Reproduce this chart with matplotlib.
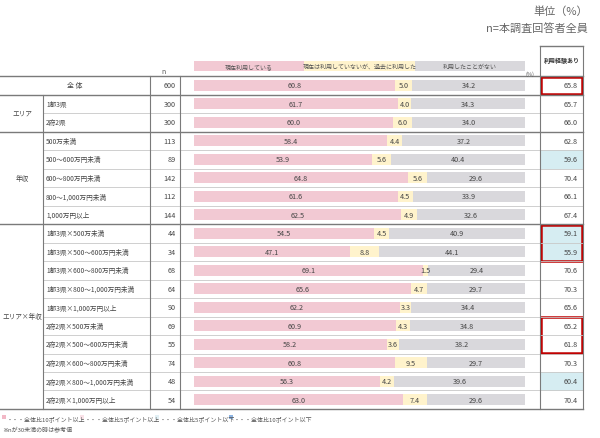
import matplotlib.pyplot as plt
import matplotlib.patches as mpatches
import numpy as np

plt.rcParams['font.family'] = ['Noto Sans CJK JP', 'DejaVu Sans']

labels = ['全 体', '1都3県', '2府2県',
          '500万未満', '500～600万円未満', '600～800万円未満', '800～1,000万円未満', '1,000万円以上',
          '1都3県×500万未満', '1都3県×500～600万円未満', '1都3県×600～800万円未満',
          '1都3県×800～1,000万円未満', '1都3県×1,000万円以上',
          '2府2県×500万未満', '2府2県×500～600万円未満', '2府2県×600～800万円未満',
          '2府2県×800～1,000万円未満', '2府2県×1,000万円以上']
n_vals = [600, 300, 300, 113, 89, 142, 112, 144, 44, 34, 68, 64, 90, 69, 55, 74, 48, 54]
using_now = [60.8, 61.7, 60.0, 58.4, 53.9, 64.8, 61.6, 62.5,
             54.5, 47.1, 69.1, 65.6, 62.2, 60.9, 58.2, 60.8, 56.3, 63.0]
used_before = [5.0, 4.0, 6.0, 4.4, 5.6, 5.6, 4.5, 4.9,
               4.5, 8.8, 1.5, 4.7, 3.3, 4.3, 3.6, 9.5, 4.2, 7.4]
never_used = [34.2, 34.3, 34.0, 37.2, 40.4, 29.6, 33.9, 32.6,
              40.9, 44.1, 29.4, 29.7, 34.4, 34.8, 38.2, 29.7, 39.6, 29.6]
experienced = [65.8, 65.7, 66.0, 62.8, 59.6, 70.4, 66.1, 67.4,
               59.1, 55.9, 70.6, 70.3, 65.6, 65.2, 61.8, 70.3, 60.4, 70.4]
series_names = ['現在利用している', '現在は利用していないが、過去に利用した', '利用したことがない']
groups = [('エリア', 1, 2), ('年収', 3, 7), ('エリア×年収', 8, 17)]
blue_rows = [4, 8, 9, 16]
red_boxes = [(0, 0), (8, 9), (13, 14)]
legend_items = ['・・・全体比10ポイント以上', '・・・全体比5ポイント以上',
                '・・・全体比5ポイント以下', '・・・全体比10ポイント以下']

pink, yellow, gray = '#f2c9d3', '#fff3cc', '#d9d8dc'
thin, thick = '#c8c8c8', '#7a7a7a'
txt_col = '#444444'

W, H = 600, 439
fig = plt.figure(figsize=(6, 4.39), dpi=100)

# table layer in pixel coordinates
tab = fig.add_axes([0, 0, 1, 1])
tab.set_xlim(0, W)
tab.set_ylim(H, 0)
tab.axis('off')

top, bottom = 77, 410
nrows = len(labels)
rh = (bottom - top) / nrows
row_y = lambda i: top + (i + 0.5) * rh

# bars
bx0, bx1 = 194, 525
bax = fig.add_axes([bx0 / W, 1 - bottom / H, (bx1 - bx0) / W, (bottom - top) / H])
y = np.arange(nrows)
a = np.array(using_now)
b = np.array(used_before)
c = np.array(never_used)
for vals, left, col in [(a, 0, pink), (b, a, yellow), (c, a + b, gray)]:
    bars = bax.barh(y, vals, left=left, height=0.6, color=col)
    bax.bar_label(bars, labels=[f'{v:.1f}' for v in vals], label_type='center',
                  fontsize=5.2, color=txt_col)
bax.set_xlim(0, 100)
bax.set_ylim(nrows - 0.5, -0.5)
bax.axis('off')

# header boxes
seg = (bx1 - bx0) / 3
for k, (name, col) in enumerate(zip(series_names, [pink, yellow, gray])):
    x0 = bx0 + k * seg
    tab.add_patch(mpatches.Rectangle((x0, 62), seg, 10, color=col, lw=0))
    tab.text(x0 + seg / 2, 67, name, fontsize=4.3, ha='center', va='center', color='#555555')
tab.text(530, 74, '(%)', fontsize=4, ha='center', va='center', color='#555555')
tab.text(163, 72, 'n', fontsize=5, ha='center', va='center', color='#555555')

# right column
rx0, rx1 = 540, 583
for i in blue_rows:
    tab.add_patch(mpatches.Rectangle((rx0, top + i * rh), rx1 - rx0, rh, color='#d6edf2', lw=0))
tab.text((rx0 + rx1) / 2, 60, '利用経験あり', fontsize=4.3, ha='center', va='center',
         fontweight='bold', color='#333333')

# grid lines
thick_rows = {0, 1, 3, 8, nrows}
for i in range(nrows + 1):
    yy = top + i * rh
    if i in thick_rows:
        tab.plot([0, rx1], [yy, yy], color=thick, lw=1.0)
    else:
        tab.plot([43, rx1], [yy, yy], color=thin, lw=0.6)
tab.plot([rx0, rx1], [47, 47], color=thick, lw=1.0)
tab.plot([43, 43], [top + rh, bottom], color=thick, lw=0.8)
for xx in (150, 180):
    tab.plot([xx, xx], [top, bottom], color=thick, lw=0.8)
for xx in (rx0, rx1):
    tab.plot([xx, xx], [47, bottom], color=thick, lw=0.8)

# row texts
for i in range(nrows):
    yy = row_y(i)
    if i == 0:
        tab.text(75, yy, labels[i], fontsize=5, ha='center', va='center', color=txt_col)
    else:
        tab.text(46, yy, labels[i], fontsize=4.8, ha='left', va='center', color=txt_col)
    tab.text(176, yy, str(n_vals[i]), fontsize=5.2, ha='right', va='center', color=txt_col)
    tab.text(578, yy, f'{experienced[i]:.1f}', fontsize=5.2, ha='right', va='center', color=txt_col)

for name, r0, r1 in groups:
    tab.text(22, (row_y(r0) + row_y(r1)) / 2, name, fontsize=4.8, ha='center', va='center',
             color=txt_col)

for r0, r1 in red_boxes:
    tab.add_patch(mpatches.Rectangle((rx0 + 1, top + r0 * rh + 0.5), rx1 - rx0 - 2,
                                     (r1 - r0 + 1) * rh - 1, fill=False,
                                     edgecolor='#c00000', lw=1.8))

# unit text
tab.text(588, 12, '単位（%）', fontsize=8, ha='right', va='center', color='#666666')
tab.text(588, 28, 'n=本調査回答者全員', fontsize=8, ha='right', va='center', color='#666666')

# legend
leg_cols = ['#f2b8c6', '#f9e1e7', '#e2f0f5', '#8db4e2']
lx = [2, 80, 155, 229]
for x0, col, txt in zip(lx, leg_cols, legend_items):
    tab.add_patch(mpatches.Rectangle((x0, 416.5), 4, 4, color=col, lw=0))
    tab.text(x0 + 5, 419, txt, fontsize=4.3, ha='left', va='center', color='#555555')
tab.text(2, 430, '※nが30未満の時は参考値', fontsize=4.3, ha='left', va='center', color='#555555')

fig.savefig('out.png', dpi=100)
